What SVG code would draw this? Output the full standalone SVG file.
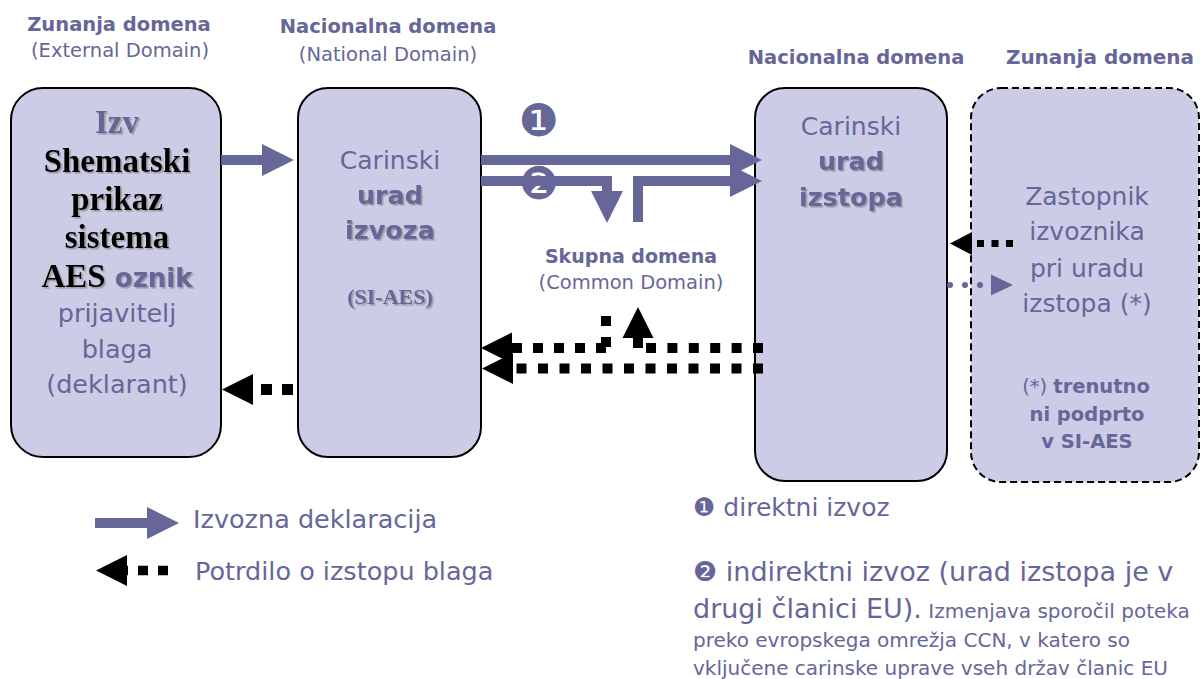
<svg xmlns="http://www.w3.org/2000/svg" width="1200" height="679" viewBox="0 0 1200 679">
<style>
.box{fill:#CCCCE6;stroke:#000;stroke-width:2}
.dbox{fill:#CCCCE6;stroke:#000;stroke-width:2;stroke-dasharray:7 4}
.t{font-family:"DejaVu Sans","Liberation Sans",sans-serif;fill:#666699}
.c{text-anchor:middle}
.b{font-weight:bold}
.s{font-family:"Liberation Serif","Times New Roman",serif;font-weight:bold}
.k{fill:#000}
.sh{filter:url(#sh)}
.pa{fill:none;stroke:#666699;stroke-width:10}
.da{fill:none;stroke:#000}
</style>
<defs>
<filter id="sh" x="-10%" y="-10%" width="130%" height="140%">
<feDropShadow dx="1.6" dy="1.6" stdDeviation="0.4" flood-color="#8a8a8a" flood-opacity="0.75"/>
</filter>
<marker id="ph" markerUnits="userSpaceOnUse" markerWidth="32" markerHeight="32" viewBox="0 0 32 32" refX="0" refY="16" orient="auto" overflow="visible">
<path d="M0,0 L32,16 L0,32 Z" fill="#666699"/>
</marker>
<marker id="phs" markerUnits="userSpaceOnUse" markerWidth="22" markerHeight="21" viewBox="0 0 22 21" refX="0" refY="10.5" orient="auto" overflow="visible">
<path d="M0,0 L22,10.5 L0,21 Z" fill="#666699"/>
</marker>
<marker id="bh" markerUnits="userSpaceOnUse" markerWidth="31" markerHeight="31" viewBox="0 0 31 31" refX="0" refY="15.5" orient="auto" overflow="visible">
<path d="M0,0 L31,15.5 L0,31 Z" fill="#000"/>
</marker>
<marker id="bhs" markerUnits="userSpaceOnUse" markerWidth="22" markerHeight="23" viewBox="0 0 22 23" refX="0" refY="11.5" orient="auto" overflow="visible">
<path d="M0,0 L22,11.5 L0,23 Z" fill="#000"/>
</marker>
</defs>

<g id="headings">
<text class="t c b" x="119" y="31" font-size="19.5">Zunanja domena</text>
<text class="t c" x="120" y="57" font-size="19.5">(External Domain)</text>
<text class="t c b" x="388" y="33" font-size="19.5">Nacionalna domena</text>
<text class="t c" x="388" y="61" font-size="19.5">(National Domain)</text>
<text class="t c b" x="856" y="64" font-size="19.5">Nacionalna domena</text>
<text class="t c b" x="1100" y="64" font-size="20">Zunanja domena</text>
<text class="t c b" x="631" y="263" font-size="19">Skupna domena</text>
<text class="t c" x="631" y="289" font-size="19.5">(Common Domain)</text>
</g>

<g id="izvoznik">
<rect class="box" x="11" y="88" width="210" height="369" rx="32" ry="32"/>
<text class="t c s sh" x="117" y="133" font-size="33">Izv</text>
<text class="t c s k sh" x="117" y="172" font-size="33">Shematski</text>
<text class="t c s k sh" x="117" y="210" font-size="33">prikaz</text>
<text class="t c s k sh" x="117" y="248" font-size="33">sistema</text>
<text class="t c sh" x="117" y="287"><tspan class="s k" font-size="33">AES</tspan><tspan class="b" font-size="26"> oznik</tspan></text>
<text class="t c" x="117" y="322" font-size="25.5">prijavitelj</text>
<text class="t c" x="117" y="358" font-size="25.5">blaga</text>
<text class="t c" x="117" y="393" font-size="25.5">(deklarant)</text>
</g>

<g id="urad-izvoza">
<rect class="box" x="298" y="88" width="183" height="369" rx="30" ry="30"/>
<text class="t c" x="390" y="169" font-size="25">Carinski</text>
<text class="t c b sh" x="390" y="204" font-size="25.5">urad</text>
<text class="t c b sh" x="390" y="239" font-size="25.5">izvoza</text>
<text class="t c s sh" x="390" y="304" font-size="22">(SI-AES)</text>
</g>

<g id="urad-izstopa">
<rect class="box" x="755" y="88" width="192" height="393" rx="30" ry="30"/>
<text class="t c" x="851" y="135" font-size="25">Carinski</text>
<text class="t c b sh" x="851" y="170" font-size="25.5">urad</text>
<text class="t c b sh" x="851" y="206" font-size="25.5">izstopa</text>
</g>

<g id="zastopnik">
<rect class="dbox" x="971" y="88" width="228" height="394" rx="30" ry="30"/>
<text class="t c" x="1087" y="205" font-size="25">Zastopnik</text>
<text class="t c" x="1087" y="240" font-size="25">izvoznika</text>
<text class="t c" x="1087" y="277" font-size="25">pri uradu</text>
<text class="t c" x="1087" y="312" font-size="25">izstopa (*)</text>
<text class="t c" x="1086" y="393" font-size="19.5">(*) <tspan class="b">trenutno</tspan></text>
<text class="t c b" x="1087" y="421" font-size="19.5">ni podprto</text>
<text class="t c b" x="1087" y="448" font-size="19.5">v SI-AES</text>
</g>

<g id="markers-num">
<text class="t c" x="539" y="136" font-size="45">❶</text>
<text class="t c" x="539" y="199" font-size="45">❷</text>
</g>

<g id="connectors">
<path class="pa" d="M221,160 H262" marker-end="url(#ph)"/>
<path class="pa" d="M481,160 H730" marker-end="url(#ph)"/>
<path class="pa" d="M481,181 H607 V191" marker-end="url(#ph)"/>
<path class="pa" d="M638,222 V181 H730" marker-end="url(#ph)"/>
<path class="da" d="M606,348 H512" stroke-width="10" stroke-dasharray="10 11" marker-end="url(#bh)"/>
<path class="da" d="M763,348 H646" stroke-width="10" stroke-dasharray="10 11.4"/>
<path class="da" d="M606,347 V316" stroke-width="10" stroke-dasharray="10 11"/>
<path class="da" d="M638,348 V338" stroke-width="10" marker-end="url(#bh)"/>
<path class="da" d="M763,368.5 H513" stroke-width="10" stroke-dasharray="10 11.5" marker-end="url(#bh)"/>
<path class="da" d="M293,389.5 H253" stroke-width="11" stroke-dasharray="11 10" marker-end="url(#bh)"/>
<path class="da" d="M1013,243.5 H972" stroke-width="7" stroke-dasharray="7 7.5" marker-end="url(#bhs)"/>
<path d="M950,285 H991" fill="none" stroke="#666699" stroke-width="6" stroke-linecap="round" stroke-dasharray="0 15" marker-end="url(#phs)"/>
</g>

<g id="legend">
<path class="pa" d="M95,523 H147" marker-end="url(#ph)"/>
<text class="t" x="193" y="528" font-size="25.5">Izvozna deklaracija</text>
<path class="da" d="M168,570.5 H127" stroke-width="9.5" stroke-dasharray="10 10" marker-end="url(#bh)"/>
<text class="t" x="195" y="580" font-size="25.5">Potrdilo o izstopu blaga</text>
<text class="t" x="693" y="516" font-size="25">❶ direktni izvoz</text>
<text class="t" x="693" y="581" font-size="27">❷ indirektni izvoz (urad izstopa je v</text>
<text class="t" x="693" y="618"><tspan font-size="27">drugi članici EU).</tspan><tspan font-size="20"> Izmenjava sporočil poteka</tspan></text>
<text class="t" x="693" y="647" font-size="20">preko evropskega omrežja CCN, v katero so</text>
<text class="t" x="693" y="675" font-size="20">vključene carinske uprave vseh držav članic EU</text>
</g>
</svg>
